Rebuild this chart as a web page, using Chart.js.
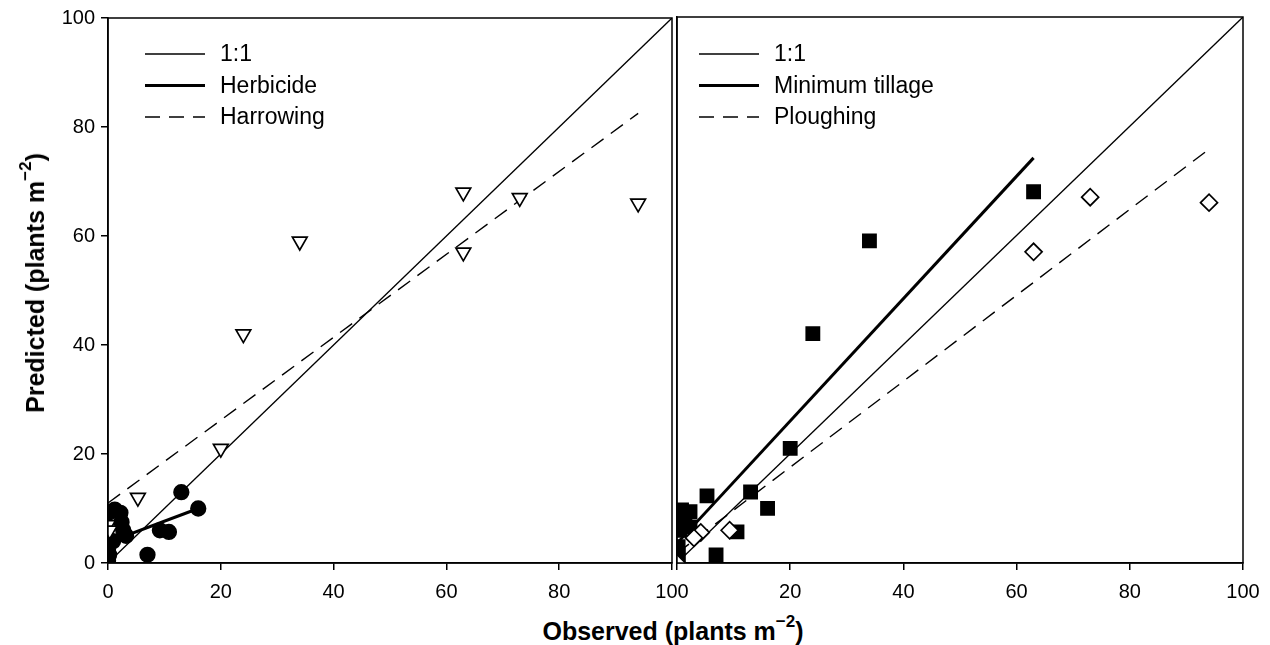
<!DOCTYPE html>
<html>
<head>
<meta charset="utf-8">
<script src="https://cdn.jsdelivr.net/npm/chart.js@4.4.0/dist/chart.umd.min.js"></script>
<style>
  body { margin: 0; background: #fff; width: 1270px; height: 645px; position: relative; overflow: hidden;
         font-family: 'Liberation Sans', Arial, sans-serif; }
  canvas { position: absolute; top: 0; }
  #leftChart { left: 0; }
  #rightChart { left: 660px; }
  .axis-title { position: absolute; font-weight: bold; font-size: 25px; line-height: 25px; color: #000; white-space: nowrap; }
  .axis-title sup { font-size: 17px; position: relative; top: -13px; vertical-align: baseline; }
  #xTitle { left: 673px; top: 619px; transform: translateX(-50%); }
  #yTitle { left: 37px; top: 283px; transform: translate(-50%, -50%) rotate(-90deg); }
</style>
</head>
<body>
<canvas id="leftChart" width="700" height="600" style="width:700px;height:600px"></canvas>
<canvas id="rightChart" width="610" height="600" style="width:610px;height:600px"></canvas>
<div class="axis-title" id="xTitle">Observed (plants m<sup>&minus;2</sup>)</div>
<div class="axis-title" id="yTitle">Predicted (plants m<sup>&minus;2</sup>)</div>

<script>
// --- Data ---
const oneToOneObs = [0, 100];
const oneToOnePred = [0, 100];

// left panel: herbicide (filled circles) vs harrowing (open triangles)
const herbObs  = [16, 13, 9.2, 10.8, 7, 3.2, 2.7, 2.4, 0.9, 0.3, 1.2, 2.2, 0, 0.2, 0];
const herbPred = [10, 13, 6, 5.7, 1.5, 5, 6, 7.5, 4, 9.3, 9.8, 9.2, 2.4, 1.5, 0.5];
const harrowObs  = [94, 73, 63, 63, 34, 24, 20, 5.3, 0, 0.3];
const harrowPred = [66, 67, 68, 57, 59, 42, 21, 12, 7, 6];
const herbFitObs  = [0, 16];
const herbFitPred = [3.8, 10];
const harrowFitObs  = [0, 94];
const harrowFitPred = [11, 82.5];

// right panel: minimum tillage (filled squares) vs ploughing (open diamonds)
const minTillObs  = [63, 34, 24, 20, 13, 16, 10.6, 6.9, 5.3, 0.8, 2.3, 1.4, 0.5, 2.3, 0.5, 0.2, 0.2, 0.2];
const minTillPred = [68, 59, 42, 21, 13, 10, 5.7, 1.5, 12.3, 9.7, 9.4, 7.9, 7.9, 6.6, 6, 3, 1.5, 0.5];
const ploughObs  = [94, 73, 63, 9.3, 4.2, 3, 0];
const ploughPred = [66, 67, 57, 6, 5.6, 4.6, 0];
const minTillFitObs  = [0, 63];
const minTillFitPred = [3.6, 74.2];
const ploughFitObs  = [0, 94];
const ploughFitPred = [1.8, 75.8];

// tick labels
const xTicksLeft  = ['0', '20', '40', '60', '80', '100'];
const xTicksRight = ['', '20', '40', '60', '80', '100'];
const yTicksLeft  = ['0', '20', '40', '60', '80', '100'];

const FONT = "'Liberation Sans', Arial, sans-serif";
const tickFont = { family: FONT, size: 20 };

function toPoints(xs, ys) {
    return xs.map((x, i) => ({ x: x, y: ys[i] }));
}

function lineSet(label, xs, ys, width, dash) {
    return {
        label: label, data: toPoints(xs, ys), showLine: true, pointRadius: 0,
        borderColor: '#000', borderWidth: width, borderDash: dash || [], fill: false
    };
}

function markerSet(label, xs, ys, style, radius, filled, rotation) {
    return {
        label: label, data: toPoints(xs, ys), showLine: false,
        pointStyle: style, pointRadius: radius, pointRotation: rotation || 0,
        pointBackgroundColor: filled ? '#000' : '#fff', pointBorderColor: '#000', pointBorderWidth: 1.7
    };
}

// legend drawn inside the plot area, only the line series
const insideLegend = {
    id: 'insideLegend',
    afterDraw(chart, args, opts) {
        const ctx = chart.ctx;
        ctx.save();
        ctx.font = '23px ' + FONT;
        ctx.fillStyle = '#000';
        ctx.strokeStyle = '#000';
        ctx.textBaseline = 'middle';
        chart.data.datasets.filter(d => d.showLine).forEach((d, i) => {
            const y = opts.top + i * opts.rowGap;
            ctx.beginPath();
            ctx.lineWidth = d.borderWidth;
            ctx.setLineDash(d.borderDash);
            ctx.moveTo(opts.x, y);
            ctx.lineTo(opts.x + opts.lineLen, y);
            ctx.stroke();
            ctx.fillText(d.label, opts.x + opts.lineLen + 15, y + 1);
        });
        ctx.restore();
    }
};

// box round the plot area
const frame = {
    id: 'frame',
    afterDraw(chart) {
        const a = chart.chartArea, ctx = chart.ctx;
        ctx.save();
        ctx.lineWidth = 1.5;
        ctx.strokeStyle = '#000';
        ctx.strokeRect(a.left, a.top, a.right - a.left, a.bottom - a.top);
        ctx.restore();
    }
};

function xAxis(labels) {
    return {
        type: 'linear', min: 0, max: 100,
        ticks: { stepSize: 20, color: '#000', font: tickFont, padding: 10, maxRotation: 0,
                 callback: (v, i) => labels[i] },
        grid: { drawOnChartArea: false, drawTicks: true, tickLength: 7, color: '#000', lineWidth: 1.5 },
        border: { display: true, color: '#000', width: 1.5 },
        afterFit: s => { s.height = 37; }
    };
}

function makeChart(id, datasets, yAxis, padding, legendX) {
    return new Chart(document.getElementById(id), {
        type: 'scatter',
        data: { datasets: datasets },
        options: {
            responsive: false, animation: false, devicePixelRatio: 1,
            layout: { padding: padding },
            plugins: {
                legend: { display: false }, tooltip: { enabled: false },
                insideLegend: { x: legendX, top: 54, rowGap: 31.5, lineLen: 60 }
            },
            scales: { x: xAxis(id === 'leftChart' ? xTicksLeft : xTicksRight), y: yAxis }
        },
        plugins: [frame, insideLegend]
    });
}

// index 0 is drawn on top, so markers come first
makeChart('leftChart', [
    markerSet('Harrowing obs', harrowObs, harrowPred, 'triangle', 8.5, false, 180),
    markerSet('Herbicide obs', herbObs, herbPred, 'circle', 7.3, true),
    lineSet('1:1', oneToOneObs, oneToOnePred, 1.3),
    lineSet('Herbicide', herbFitObs, herbFitPred, 3),
    lineSet('Harrowing', harrowFitObs, harrowFitPred, 1.4, [15, 9])
], {
    type: 'linear', min: 0, max: 100,
    ticks: { stepSize: 20, color: '#000', font: tickFont, padding: 6, callback: (v, i) => yTicksLeft[i] },
    grid: { drawOnChartArea: false, drawTicks: true, tickLength: 7, color: '#000', lineWidth: 1.5 },
    border: { display: true, color: '#000', width: 1.5 },
    afterFit: s => { s.width = 108; }
}, { left: 0, top: 17, right: 28, bottom: 0 }, 145);

makeChart('rightChart', [
    markerSet('Ploughing obs', ploughObs, ploughPred, 'rectRot', 8.5, false),
    markerSet('Minimum tillage obs', minTillObs, minTillPred, 'rect', 9.3, true),
    lineSet('1:1', oneToOneObs, oneToOnePred, 1.3),
    lineSet('Minimum tillage', minTillFitObs, minTillFitPred, 3),
    lineSet('Ploughing', ploughFitObs, ploughFitPred, 1.4, [15, 9])
], {
    type: 'linear', min: 0, max: 100,
    ticks: { display: false },
    grid: { display: false },
    border: { display: true, color: '#000', width: 1.5 },
    afterFit: s => { s.width = 17; }
}, { left: 0, top: 17, right: 27, bottom: 0 }, 39);
</script>
</body>
</html>
